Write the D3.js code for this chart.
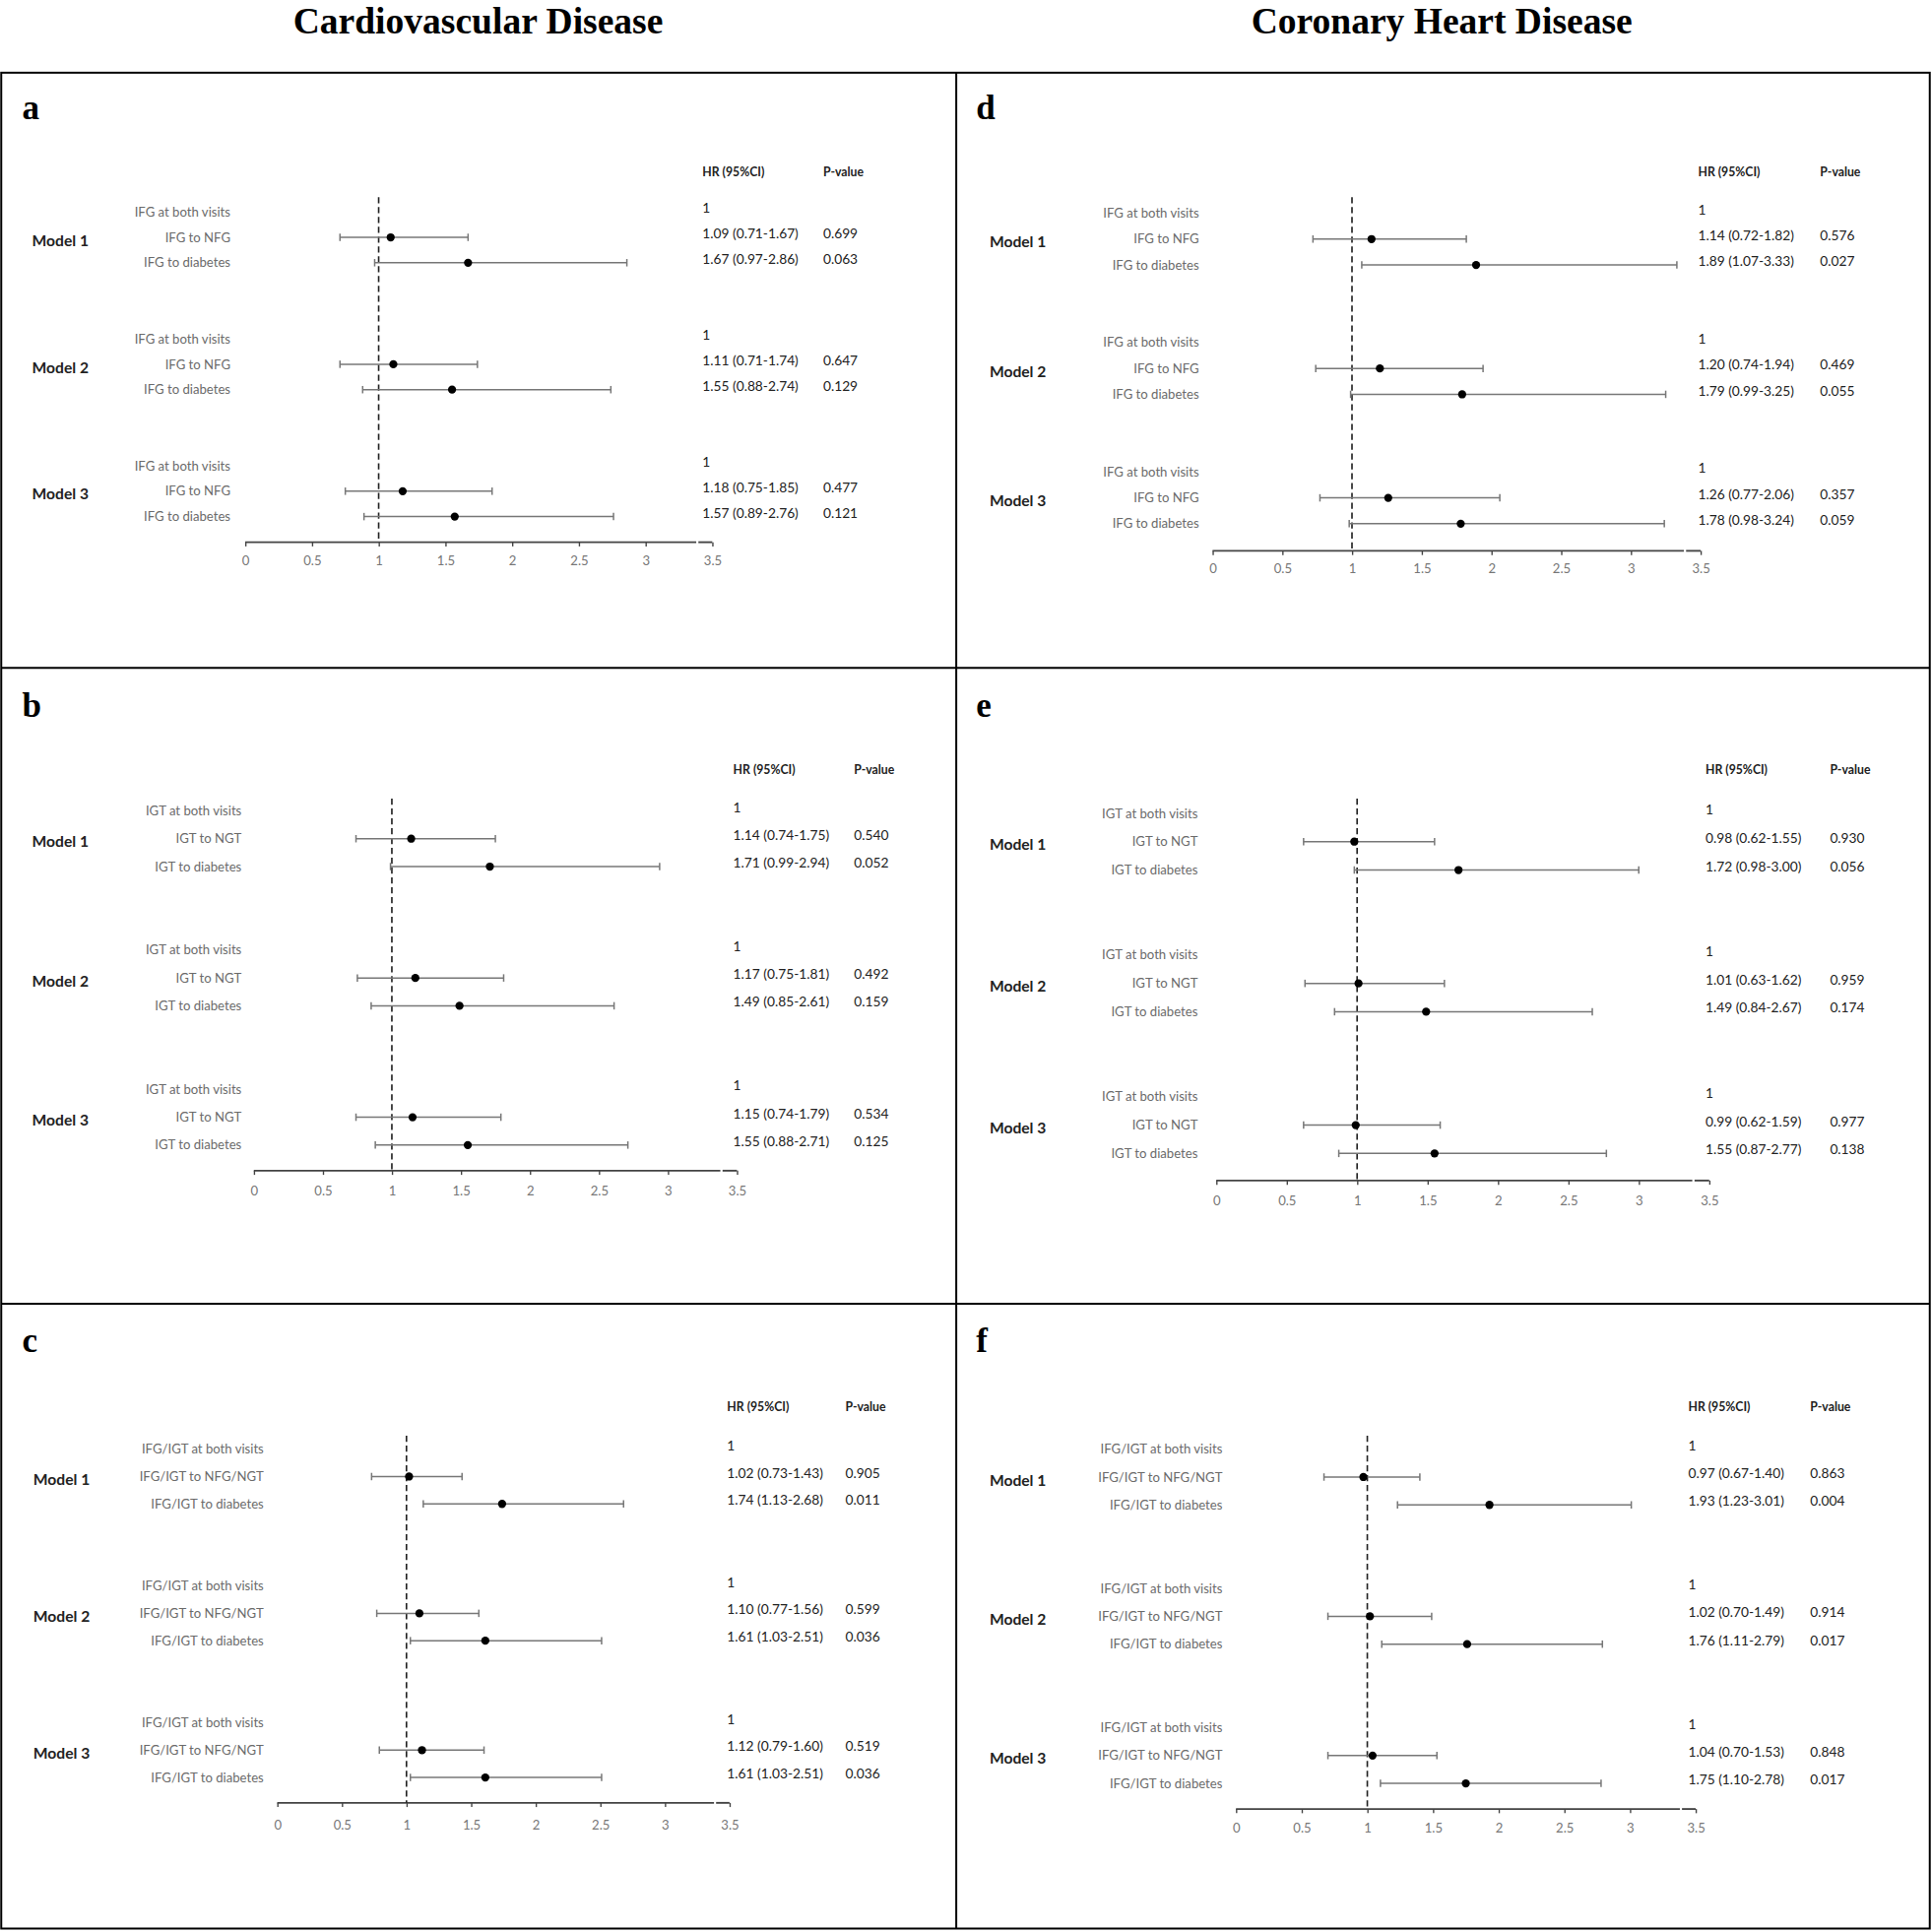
<!DOCTYPE html>
<html><head><meta charset="utf-8">
<script src="https://cdn.jsdelivr.net/npm/d3@7"></script>
<style>body{margin:0;background:#fff}svg{display:block}</style>
</head><body>
<svg id="c" width="1961" height="1962"></svg>
<script>
// ---------- data ----------
const columnTitles = ["Cardiovascular Disease", "Coronary Heart Disease"];
const panelLetters = ["a", "b", "c", "d", "e", "f"];
const modelNames = ["Model 1", "Model 2", "Model 3"];
const rowsIFG = ["IFG at both visits", "IFG to NFG", "IFG to diabetes"];
const rowsIGT = ["IGT at both visits", "IGT to NGT", "IGT to diabetes"];
const rowsBoth = ["IFG/IGT at both visits", "IFG/IGT to NFG/NGT", "IFG/IGT to diabetes"];
const tickValues = [0, 0.5, 1, 1.5, 2, 2.5, 3, 3.5];
const tickLabels = ["0", "0.5", "1", "1.5", "2", "2.5", "3", "3.5"];

// per panel: 9 rows (3 models x 3 groups); reference rows have HR 1, no CI
const hrA = [1, 1.09, 1.67, 1, 1.11, 1.55, 1, 1.18, 1.57];
const loA = [null, 0.71, 0.97, null, 0.71, 0.88, null, 0.75, 0.89];
const hiA = [null, 1.67, 2.86, null, 1.74, 2.74, null, 1.85, 2.76];
const pA = ["", "0.699", "0.063", "", "0.647", "0.129", "", "0.477", "0.121"];

const hrB = [1, 1.14, 1.71, 1, 1.17, 1.49, 1, 1.15, 1.55];
const loB = [null, 0.74, 0.99, null, 0.75, 0.85, null, 0.74, 0.88];
const hiB = [null, 1.75, 2.94, null, 1.81, 2.61, null, 1.79, 2.71];
const pB = ["", "0.540", "0.052", "", "0.492", "0.159", "", "0.534", "0.125"];

const hrC = [1, 1.02, 1.74, 1, 1.10, 1.61, 1, 1.12, 1.61];
const loC = [null, 0.73, 1.13, null, 0.77, 1.03, null, 0.79, 1.03];
const hiC = [null, 1.43, 2.68, null, 1.56, 2.51, null, 1.60, 2.51];
const pC = ["", "0.905", "0.011", "", "0.599", "0.036", "", "0.519", "0.036"];

const hrD = [1, 1.14, 1.89, 1, 1.20, 1.79, 1, 1.26, 1.78];
const loD = [null, 0.72, 1.07, null, 0.74, 0.99, null, 0.77, 0.98];
const hiD = [null, 1.82, 3.33, null, 1.94, 3.25, null, 2.06, 3.24];
const pD = ["", "0.576", "0.027", "", "0.469", "0.055", "", "0.357", "0.059"];

const hrE = [1, 0.98, 1.72, 1, 1.01, 1.49, 1, 0.99, 1.55];
const loE = [null, 0.62, 0.98, null, 0.63, 0.84, null, 0.62, 0.87];
const hiE = [null, 1.55, 3.00, null, 1.62, 2.67, null, 1.59, 2.77];
const pE = ["", "0.930", "0.056", "", "0.959", "0.174", "", "0.977", "0.138"];

const hrF = [1, 0.97, 1.93, 1, 1.02, 1.76, 1, 1.04, 1.75];
const loF = [null, 0.67, 1.23, null, 0.70, 1.11, null, 0.70, 1.10];
const hiF = [null, 1.40, 3.01, null, 1.49, 2.79, null, 1.53, 2.78];
const pF = ["", "0.863", "0.004", "", "0.914", "0.017", "", "0.848", "0.017"];

// ---------- layout (in 1567-wide units, scaled up) ----------
const K = 1961 / 1567;
const svg = d3.select("#c");
const root = svg.append("g").attr("transform", `scale(${K})`);
const FONT = "Lato, 'Open Sans', sans-serif";
const SERIF = "'Liberation Serif', 'Times New Roman', serif";

const layouts = [
  {x0:199, x1:578, axisY:440, tickY:455, row0:172, step:20.6, dashTop:160, labelRight:187, modelX:26, hrX:570, pX:668, headerY:143, letterX:18, letterY:97},
  {x0:206, x1:598, axisY:950, tickY:967, row0:658, step:22.6, dashTop:648, labelRight:196, modelX:26, hrX:595, pX:693, headerY:628, letterX:18, letterY:582},
  {x0:225, x1:592, axisY:1463, tickY:1481, row0:1176, step:22.2, dashTop:1165, labelRight:214, modelX:27, hrX:590, pX:686, headerY:1145, letterX:18, letterY:1097},
  {x0:984, x1:1380, axisY:447, tickY:462, row0:173, step:21, dashTop:160, labelRight:973, modelX:803, hrX:1378, pX:1477, headerY:143, letterX:792, letterY:97},
  {x0:987, x1:1387, axisY:958, tickY:975, row0:660, step:23, dashTop:648, labelRight:972, modelX:803, hrX:1384, pX:1485, headerY:628, letterX:792, letterY:582},
  {x0:1003, x1:1376, axisY:1468, tickY:1484, row0:1176, step:22.6, dashTop:1165, labelRight:992, modelX:803, hrX:1370, pX:1469, headerY:1145, letterX:792, letterY:1097}
];

const panelData = [
  {rows: rowsIFG, hr: hrA, lo: loA, hi: hiA, p: pA},
  {rows: rowsIGT, hr: hrB, lo: loB, hi: hiB, p: pB},
  {rows: rowsBoth, hr: hrC, lo: loC, hi: hiC, p: pC},
  {rows: rowsIFG, hr: hrD, lo: loD, hi: hiD, p: pD},
  {rows: rowsIGT, hr: hrE, lo: loE, hi: hiE, p: pE},
  {rows: rowsBoth, hr: hrF, lo: loF, hi: hiF, p: pF}
];

// column titles
[388, 1170].forEach((cx, i) => {
  root.append("text").attr("x", cx).attr("y", 27).attr("text-anchor", "middle")
    .attr("font-family", SERIF).attr("font-weight", "bold").attr("font-size", 30)
    .attr("fill", "#000").text(columnTitles[i]);
});

// panel grid borders
const bw = 1.6;
root.append("rect").attr("x", 1).attr("y", 59).attr("width", 1565).attr("height", 1506)
  .attr("fill", "none").attr("stroke", "#000").attr("stroke-width", bw);
[542, 1058].forEach(y => root.append("line").attr("x1", 1).attr("x2", 1566).attr("y1", y).attr("y2", y)
  .attr("stroke", "#000").attr("stroke-width", bw));
root.append("line").attr("x1", 776).attr("x2", 776).attr("y1", 59).attr("y2", 1565)
  .attr("stroke", "#000").attr("stroke-width", bw);

const fmt = v => v.toFixed(2);

layouts.forEach((L, pi) => {
  const D = panelData[pi];
  const g = root.append("g");
  const x = d3.scaleLinear().domain([0, 3.5]).range([L.x0, L.x1]);
  const y = d3.scaleLinear().domain([0, 1]).range([L.row0, L.row0 + L.step]);
  const rowPos = i => Math.floor(i / 3) * 5 + (i % 3);

  // letter
  g.append("text").attr("x", L.letterX).attr("y", L.letterY)
    .attr("font-family", SERIF).attr("font-weight", "bold").attr("font-size", 28)
    .attr("fill", "#000").text(panelLetters[pi]);

  // headers
  g.append("text").attr("x", L.hrX).attr("y", L.headerY).attr("font-family", FONT)
    .attr("font-weight", "bold").attr("font-size", 9.8).attr("fill", "#222").text("HR (95%CI)");
  g.append("text").attr("x", L.pX).attr("y", L.headerY).attr("font-family", FONT)
    .attr("font-weight", "bold").attr("font-size", 9.8).attr("fill", "#222").text("P-value");

  // axis
  const axisG = g.append("g").attr("transform", `translate(0,${L.axisY})`);
  const ax = d3.axisBottom(x).tickValues(tickValues).tickFormat((d, i) => tickLabels[i])
    .tickSizeOuter(0).tickSizeInner(3.4).tickPadding(9);
  axisG.call(ax);
  axisG.select(".domain").remove();
  axisG.selectAll(".tick line").attr("stroke", "#444").attr("stroke-width", 1.1);
  axisG.selectAll(".tick text").attr("font-family", FONT).attr("font-size", 10.5)
    .attr("fill", "#777").attr("dy", "0.32em").attr("y", L.tickY - L.axisY);
  [[0, 3.38], [3.396, 3.5]].forEach(s => {
    axisG.append("line").attr("x1", x(s[0])).attr("x2", x(s[1])).attr("y1", 0).attr("y2", 0)
      .attr("stroke", "#444").attr("stroke-width", 1.5);
  });

  // reference dashed line at HR = 1
  g.append("line").attr("x1", x(1)).attr("x2", x(1)).attr("y1", L.dashTop).attr("y2", L.axisY)
    .attr("stroke", "#222").attr("stroke-width", 1.3).attr("stroke-dasharray", "5,3");

  // model labels
  modelNames.forEach((m, mi) => {
    g.append("text").attr("x", L.modelX).attr("y", y(mi * 5 + 1)).attr("dy", "0.55em")
      .attr("font-family", FONT).attr("font-weight", "bold").attr("font-size", 12.5)
      .attr("fill", "#222").text(m);
  });

  D.hr.forEach((hr, i) => {
    const yy = y(rowPos(i));
    g.append("text").attr("x", L.labelRight).attr("y", yy).attr("dy", "0.35em")
      .attr("text-anchor", "end").attr("font-family", FONT).attr("font-size", 10.5)
      .attr("fill", "#6b6b6b").text(D.rows[i % 3]);
    const lo = D.lo[i], hi = D.hi[i];
    const hrText = lo == null ? "1" : `${fmt(hr)} (${fmt(lo)}-${fmt(hi)})`;
    g.append("text").attr("x", L.hrX).attr("y", yy - 3).attr("dy", "0.35em")
      .attr("font-family", FONT).attr("font-size", 11).attr("fill", "#222").text(hrText);
    if (D.p[i]) {
      g.append("text").attr("x", L.pX).attr("y", yy - 3).attr("dy", "0.35em")
        .attr("font-family", FONT).attr("font-size", 11).attr("fill", "#222").text(D.p[i]);
    }
    if (lo != null) {
      g.append("line").attr("x1", x(lo)).attr("x2", x(hi)).attr("y1", yy).attr("y2", yy)
        .attr("stroke", "#777").attr("stroke-width", 1.2);
      [lo, hi].forEach(v => g.append("line").attr("x1", x(v)).attr("x2", x(v))
        .attr("y1", yy - 3).attr("y2", yy + 3).attr("stroke", "#777").attr("stroke-width", 1.2));
      g.append("circle").attr("cx", x(hr)).attr("cy", yy).attr("r", 3.3).attr("fill", "#000");
    }
  });
});
</script>
</body></html>
